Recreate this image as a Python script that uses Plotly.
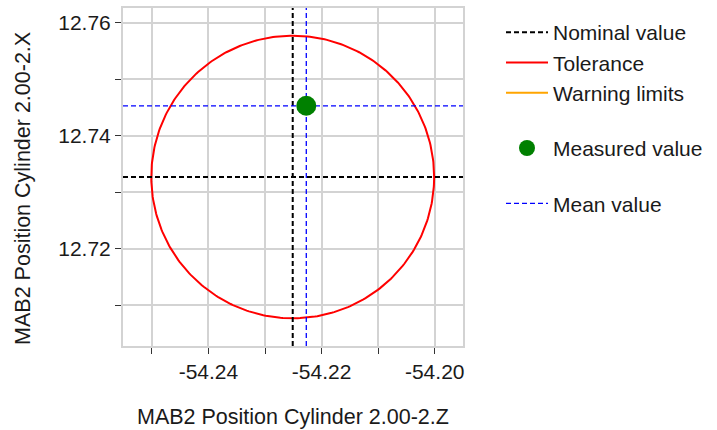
import numpy as np
import plotly.graph_objects as go

# ---- data ----
nominal_z = -54.2251
nominal_x = 12.7327
tolerance_radius = 0.025
measured_z = [-54.2227]
measured_x = [12.7453]
mean_z = -54.2227
mean_x = 12.7453

x_range = [-54.2551, -54.1950]
y_range = [12.7028, 12.7626]
x_tickvals = [-54.25, -54.24, -54.23, -54.22, -54.21, -54.20]
x_ticktext = ["", "-54.24", "", "-54.22", "", "-54.20"]
y_tickvals = [12.71, 12.72, 12.73, 12.74, 12.75, 12.76]
y_ticktext = ["", "12.72", "", "12.74", "", "12.76"]

x_title = "MAB2 Position Cylinder 2.00-2.Z"
y_title = "MAB2 Position Cylinder 2.00-2.X"

FONT = "Liberation Sans, Arial, sans-serif"
FS = 21
FT = 21.5
W, H = 717, 430
L, R, T, B = 123, 254, 6, 84
PW, PH = W - L - R, H - T - B

theta = np.linspace(0, 2 * np.pi, 361)
circ_z = nominal_z + tolerance_radius * np.cos(theta)
circ_x = nominal_x + tolerance_radius * np.sin(theta)

fig = go.Figure()
# tolerance circle
fig.add_trace(go.Scatter(x=circ_z, y=circ_x, mode="lines", name="Tolerance",
                         line=dict(color="#ff0000", width=2), legendgroup="g1",
                         legendrank=2, hoverinfo="skip"))
# nominal lines
fig.add_trace(go.Scatter(x=[nominal_z, nominal_z, None, x_range[0], x_range[1]],
                         y=[y_range[0], y_range[1], None, nominal_x, nominal_x],
                         mode="lines", name="Nominal value",
                         line=dict(color="black", width=2, dash="5px,3px"),
                         legendgroup="g1", legendrank=1))
# warning limits (legend only)
fig.add_trace(go.Scatter(x=[None], y=[None], mode="lines", name="Warning limits",
                         line=dict(color="#ffa500", width=2), legendgroup="g1",
                         legendrank=3))
# mean lines
fig.add_trace(go.Scatter(x=[mean_z, mean_z, None, x_range[0], x_range[1]],
                         y=[y_range[0], y_range[1], None, mean_x, mean_x],
                         mode="lines", name="Mean value",
                         line=dict(color="#0000ff", width=1.3, dash="5px,3px"),
                         legendgroup="g3", legendrank=5))
# measured value
fig.add_trace(go.Scatter(x=measured_z, y=measured_x, mode="markers",
                         name="Measured value",
                         marker=dict(color="#008000", size=20),
                         legendgroup="g2", legendrank=4))

axis_common = dict(showgrid=True, gridcolor="#d3d3d3", gridwidth=2,
                   showline=True, linecolor="#d3d3d3", linewidth=2, mirror=True,
                   ticks="outside", ticklen=6, tickwidth=1, tickcolor="#333333",
                   tickfont=dict(family=FONT, size=FS, color="#1a1a1a"),
                   zeroline=False)

fig.update_layout(
    width=W, height=H,
    margin=dict(l=L, r=R, t=T, b=B),
    plot_bgcolor="white", paper_bgcolor="white",
    font=dict(family=FONT, size=FS, color="#1a1a1a"),
    xaxis=dict(range=x_range, tickmode="array", tickvals=x_tickvals,
               ticktext=x_ticktext, **axis_common),
    yaxis=dict(range=y_range, tickmode="array", tickvals=y_tickvals,
               ticktext=y_ticktext, **axis_common),
    showlegend=True,
    legend=dict(x=(501 - L) / PW, xanchor="left", y=(H - B - 10) / PH, yanchor="top",
                traceorder="grouped", tracegroupgap=25, itemwidth=42,
                font=dict(family=FONT, size=FS, color="#1a1a1a"),
                bgcolor="rgba(0,0,0,0)"),
    annotations=[
        dict(text=x_title, xref="paper", yref="paper",
             x=(292.5 - L) / PW, y=(H - B - 417) / PH,
             showarrow=False, xanchor="center", yanchor="middle",
             font=dict(family=FONT, size=FT, color="#1a1a1a")),
        dict(text=y_title, xref="paper", yref="paper",
             x=(23 - L) / PW, y=(H - B - 188) / PH, textangle=-90,
             showarrow=False, xanchor="center", yanchor="middle",
             font=dict(family=FONT, size=FT, color="#1a1a1a")),
    ],
)

fig.write_html("out.html", config={"displayModeBar": False},
               post_script="document.body.style.margin='0';")
